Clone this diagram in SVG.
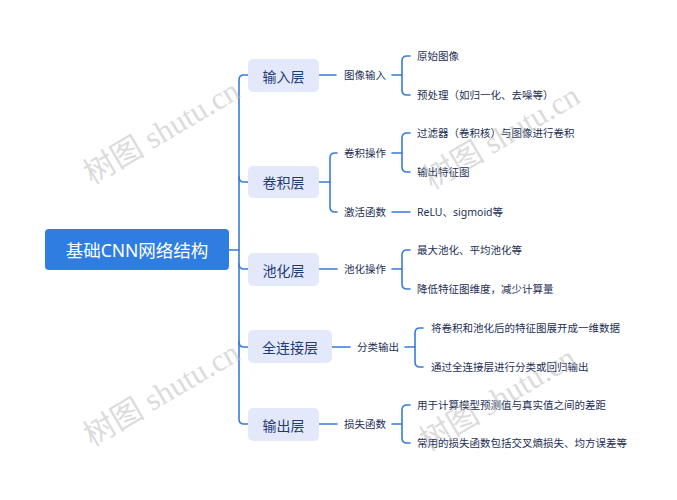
<svg xmlns="http://www.w3.org/2000/svg" width="677" height="500" viewBox="0 0 677 500">
<style>
.bg{fill:#ffffff}
.ln{fill:none;stroke:#3a7bd8;stroke-width:1.6;stroke-linecap:round}
.root{fill:#2f7de1}
.rt{font-family:"Noto Sans","Noto Sans CJK SC",sans-serif;font-size:17.5px;fill:#ffffff}
.n1{fill:#e3e9fa}
.t1{font-family:"Noto Sans CJK SC",sans-serif;font-size:14px;fill:#1f3b78}
.t2{font-family:"Noto Sans","Noto Sans CJK SC",sans-serif;font-size:10.5px;fill:#232f55}
.wm{font-family:"Liberation Serif","Noto Sans CJK SC",serif;font-size:31px;fill:#b8b8b8;fill-opacity:0.5}
</style>
<rect class="bg" x="0" y="0" width="677" height="500"/>
<g id="connectors">
<path class="ln" d="M229,250 H239"/>
<path class="ln" d="M248,75 H244 Q239,75 239,80 V419 Q239,424 244,424 H248"/>
<path class="ln" d="M239,177 Q239,182 244,182 H248"/>
<path class="ln" d="M239,264 Q239,269 244,269 H248"/>
<path class="ln" d="M239,342 Q239,347 244,347 H248"/>
<path class="ln" d="M319,75 H336"/>
<path class="ln" d="M392,75 H402"/>
<path class="ln" d="M410,56 H407 Q402,56 402,61 V90 Q402,95 407,95 H410"/>
<path class="ln" d="M319,182 H330"/>
<path class="ln" d="M337,153 H335 Q330,153 330,158 V207 Q330,212 335,212 H337"/>
<path class="ln" d="M392,153 H402"/>
<path class="ln" d="M410,133 H407 Q402,133 402,138 V167 Q402,172 407,172 H410"/>
<path class="ln" d="M392,212 H410"/>
<path class="ln" d="M319,269 H337"/>
<path class="ln" d="M392,269 H402"/>
<path class="ln" d="M410,250 H407 Q402,250 402,255 V284 Q402,289 407,289 H410"/>
<path class="ln" d="M332,347 H350"/>
<path class="ln" d="M405,347 H415"/>
<path class="ln" d="M423,328 H420 Q415,328 415,333 V362 Q415,367 420,367 H423"/>
<path class="ln" d="M319,424 H337"/>
<path class="ln" d="M392,424 H402"/>
<path class="ln" d="M410,405 H407 Q402,405 402,410 V438 Q402,443 407,443 H410"/>
</g>
<g id="root">
<rect class="root" x="45" y="229" width="184" height="41" rx="4"/>
<text class="rt" x="137" y="250" text-anchor="middle" dominant-baseline="central">基础CNN网络结构</text>
</g>
<g id="n-input">
<rect class="n1" x="248" y="59" width="71" height="33" rx="5"/>
<text class="t1" x="283.5" y="75.5" text-anchor="middle" dominant-baseline="central">输入层</text>
</g>
<g id="n-conv">
<rect class="n1" x="248" y="166" width="71" height="32" rx="5"/>
<text class="t1" x="283.5" y="182" text-anchor="middle" dominant-baseline="central">卷积层</text>
</g>
<g id="n-pool">
<rect class="n1" x="248" y="253" width="71" height="33" rx="5"/>
<text class="t1" x="283.5" y="269.5" text-anchor="middle" dominant-baseline="central">池化层</text>
</g>
<g id="n-fc">
<rect class="n1" x="248" y="330" width="84" height="33" rx="5"/>
<text class="t1" x="290" y="346.5" text-anchor="middle" dominant-baseline="central">全连接层</text>
</g>
<g id="n-out">
<rect class="n1" x="248" y="408" width="71" height="33" rx="5"/>
<text class="t1" x="283.5" y="424.5" text-anchor="middle" dominant-baseline="central">输出层</text>
</g>
<g id="n-imgin"><text class="t2" x="344" y="75" dominant-baseline="central">图像输入</text></g>
<g id="n-raw"><text class="t2" x="417" y="56" dominant-baseline="central">原始图像</text></g>
<g id="n-pre"><text class="t2" x="417" y="95" dominant-baseline="central">预处理（如归一化、去噪等）</text></g>
<g id="n-convop"><text class="t2" x="344" y="153" dominant-baseline="central">卷积操作</text></g>
<g id="n-filter"><text class="t2" x="417" y="133" dominant-baseline="central">过滤器（卷积核）与图像进行卷积</text></g>
<g id="n-fmap"><text class="t2" x="417" y="172" dominant-baseline="central">输出特征图</text></g>
<g id="n-act"><text class="t2" x="344" y="212" dominant-baseline="central">激活函数</text></g>
<g id="n-relu"><text class="t2" x="417" y="212" dominant-baseline="central">ReLU、sigmoid等</text></g>
<g id="n-poolop"><text class="t2" x="344" y="269" dominant-baseline="central">池化操作</text></g>
<g id="n-maxpool"><text class="t2" x="417" y="250" dominant-baseline="central">最大池化、平均池化等</text></g>
<g id="n-reduce"><text class="t2" x="417" y="289" dominant-baseline="central">降低特征图维度，减少计算量</text></g>
<g id="n-cls"><text class="t2" x="357" y="347" dominant-baseline="central">分类输出</text></g>
<g id="n-flat"><text class="t2" x="431" y="328" dominant-baseline="central">将卷积和池化后的特征图展开成一维数据</text></g>
<g id="n-fcout"><text class="t2" x="431" y="367" dominant-baseline="central">通过全连接层进行分类或回归输出</text></g>
<g id="n-loss"><text class="t2" x="344" y="424" dominant-baseline="central">损失函数</text></g>
<g id="n-diff"><text class="t2" x="417" y="405" dominant-baseline="central">用于计算模型预测值与真实值之间的差距</text></g>
<g id="n-common"><text class="t2" x="417" y="443" dominant-baseline="central">常用的损失函数包括交叉熵损失、均方误差等</text></g>
<g id="watermarks">
<text class="wm" transform="translate(92,185) rotate(-30.5)">树图 shutu.cn</text>
<text class="wm" transform="translate(432,190) rotate(-30.5)">树图 shutu.cn</text>
<text class="wm" transform="translate(92,447) rotate(-30.5)">树图 shutu.cn</text>
<text class="wm" transform="translate(428,452) rotate(-30.5)">树图 shutu.cn</text>
</g>
</svg>
